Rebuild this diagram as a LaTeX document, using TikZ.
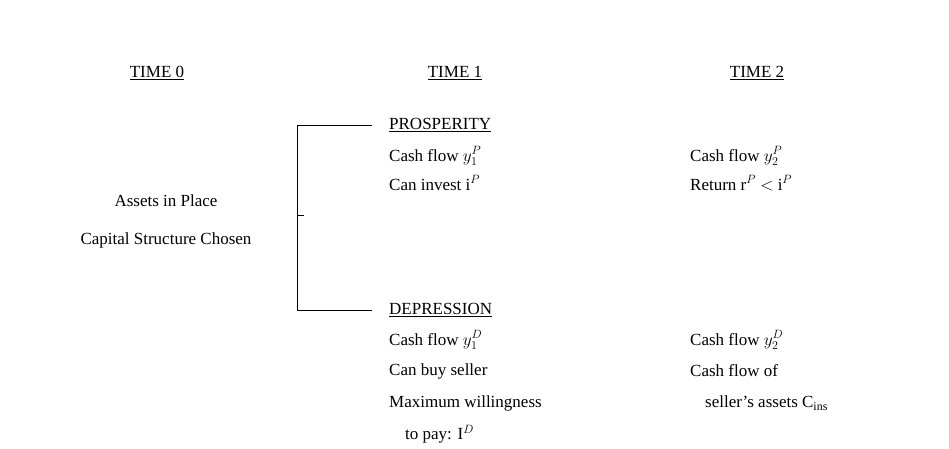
\documentclass[tikz,border=0pt]{standalone}
\usepackage{fontspec}
\setmainfont{Liberation Serif}
\begin{document}
\begin{tikzpicture}[x=1pt,y=-1pt,
  t/.style={anchor=west,inner sep=0pt,font=\fontsize{17}{20}\selectfont},
  c/.style={anchor=center,inner sep=0pt,font=\fontsize{17}{20}\selectfont},
  ln/.style={line width=0.7pt}]
\useasboundingbox (0,0) rectangle (949,449);
\node[c] (h0) at (157,73) {\underline{TIME 0}};
\node[c] (h1) at (455,73) {\underline{TIME 1}};
\node[c] (h2) at (757,73) {\underline{TIME 2}};
\node[c] (a1) at (166,201) {Assets in Place};
\node[c] (a2) at (166,240) {Capital Structure Chosen};
\coordinate (bt) at (297,125);
\coordinate (bb) at (297,310);
\coordinate (tt) at (372,125);
\coordinate (tb) at (372,310);
\coordinate (m1) at (297,215);
\coordinate (m2) at (304,215);
\draw[ln] (tt) -- (bt) -- (bb) -- (tb);
\draw[ln] (m1) -- (m2);
\node[t] (p) at (389,125) {\underline{PROSPERITY}};
\node[t] (p1) at (389,156) {Cash flow $y_1^P$};
\node[t] (p2) at (389,183) {Can invest i$^P$};
\node[t] (q1) at (690,156) {Cash flow $y_2^P$};
\node[t] (q2) at (690,183) {Return r$^P$ $<$ i$^P$};
\node[t] (d) at (389,310) {\underline{DEPRESSION}};
\node[t] (d1) at (389,340) {Cash flow $y_1^D$};
\node[t] (d2) at (389,371) {Can buy seller};
\node[t] (d3) at (389,403) {Maximum willingness};
\node[t] (d4) at (405,434) {to pay: I$^D$};
\node[t] (e1) at (690,340) {Cash flow $y_2^D$};
\node[t] (e2) at (690,371) {Cash flow of};
\node[t] (e3) at (705,403) {seller's assets C$_{\mathrm{ins}}$};
\end{tikzpicture}
\end{document}
